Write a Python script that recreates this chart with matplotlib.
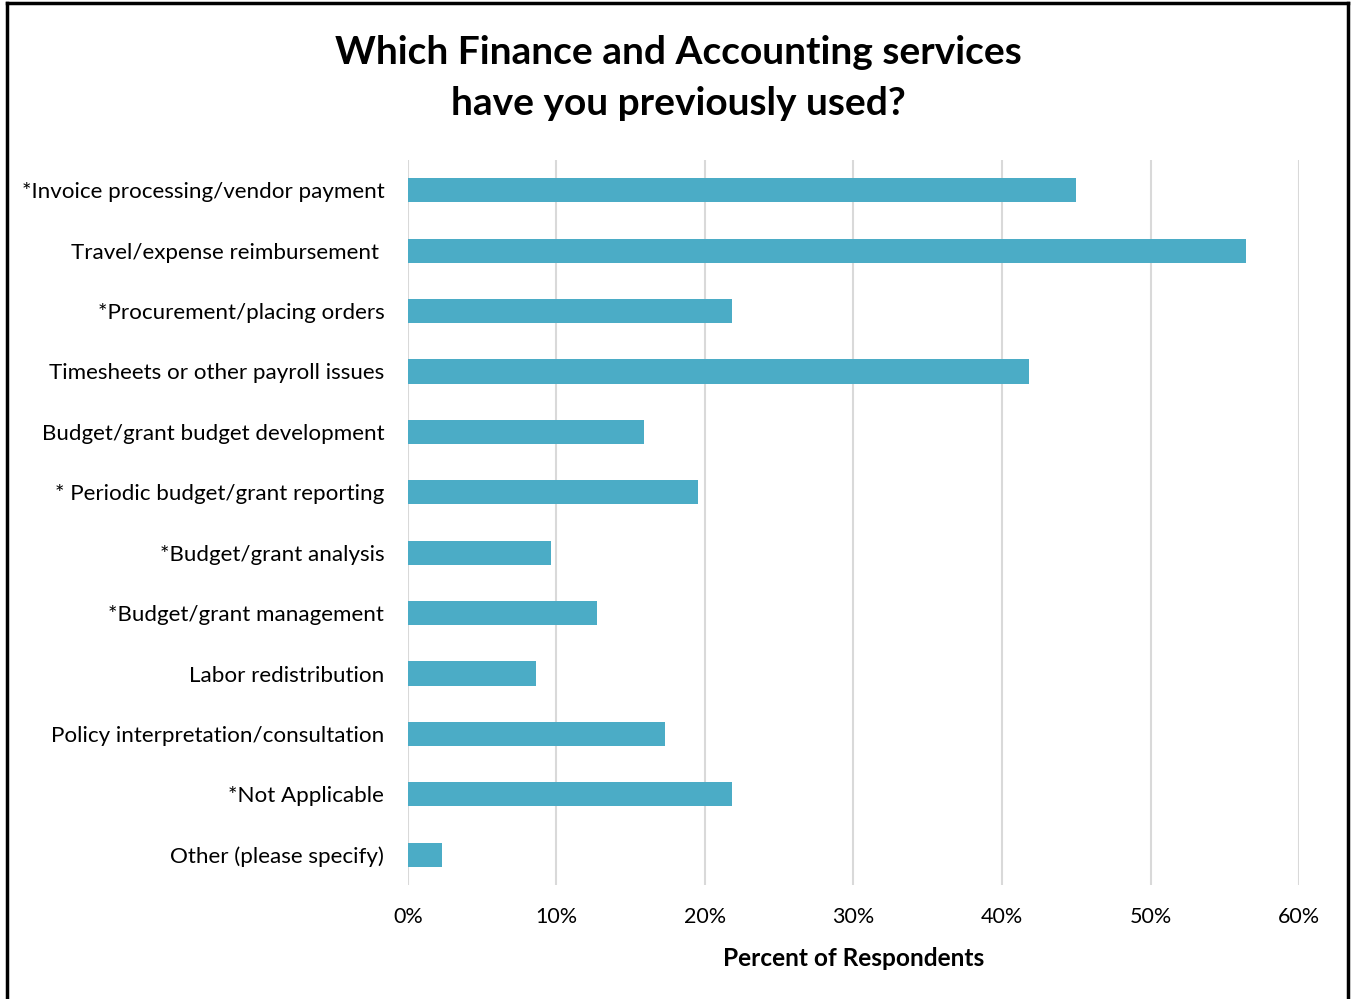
import matplotlib.pyplot as plt
from matplotlib.lines import Line2D
from matplotlib.ticker import FuncFormatter

plt.rcParams['font.family'] = ['Lato', 'DejaVu Sans']

services = [
    '*Invoice processing/vendor payment',
    'Travel/expense reimbursement ',
    '*Procurement/placing orders',
    'Timesheets or other payroll issues',
    'Budget/grant budget development',
    '* Periodic budget/grant reporting',
    '*Budget/grant analysis',
    '*Budget/grant management',
    'Labor redistribution',
    'Policy interpretation/consultation',
    '*Not Applicable',
    'Other (please specify)',
]
percent_used = [45.0, 56.4, 21.8, 41.8, 15.9, 19.5, 9.6, 12.7, 8.6, 17.3, 21.8, 2.3]
x_ticks = [0, 10, 20, 30, 40, 50, 60]

bar_color = '#4BACC6'
grid_color = '#D9D9D9'

fig = plt.figure(figsize=(13.54, 9.99), dpi=100)
ax = fig.add_axes([0.3013, 0.1141, 0.6581, 0.7257])

ypos = list(range(len(services)))
ax.barh(ypos, percent_used, height=0.4, color=bar_color, zorder=3)

ax.set_xlim(0, 60)
ax.set_ylim(len(services) - 0.5, -0.5)
ax.set_xticks(x_ticks)
ax.xaxis.set_major_formatter(FuncFormatter(lambda v, _: f'{v:.0f}%'))
ax.set_yticks(ypos)
ax.set_yticklabels(services)
ax.tick_params(axis='y', length=0, pad=17, labelsize=16.1)
ax.tick_params(axis='x', length=0, pad=16, labelsize=15.5)
ax.grid(axis='x', color=grid_color, linewidth=1.5, zorder=0)
for s in ax.spines.values():
    s.set_visible(False)

ax.set_xlabel('Percent of Respondents', fontsize=17.6, fontweight='bold', labelpad=14)

fig.text(0.5007, 0.9219, 'Which Finance and Accounting services\nhave you previously used?',
         ha='center', va='center', fontsize=28, fontweight='bold', linespacing=1.55)

# outer border (left, top, right)
kw = dict(color='black', linewidth=2.5, transform=fig.transFigure)
fig.add_artist(Line2D([0.0052, 0.0052], [0, 0.997], **kw))
fig.add_artist(Line2D([0.0052, 0.9956], [0.997, 0.997], **kw))
fig.add_artist(Line2D([0.9956, 0.9956], [0, 0.997], **kw))

fig.savefig('out.png', dpi=100)
